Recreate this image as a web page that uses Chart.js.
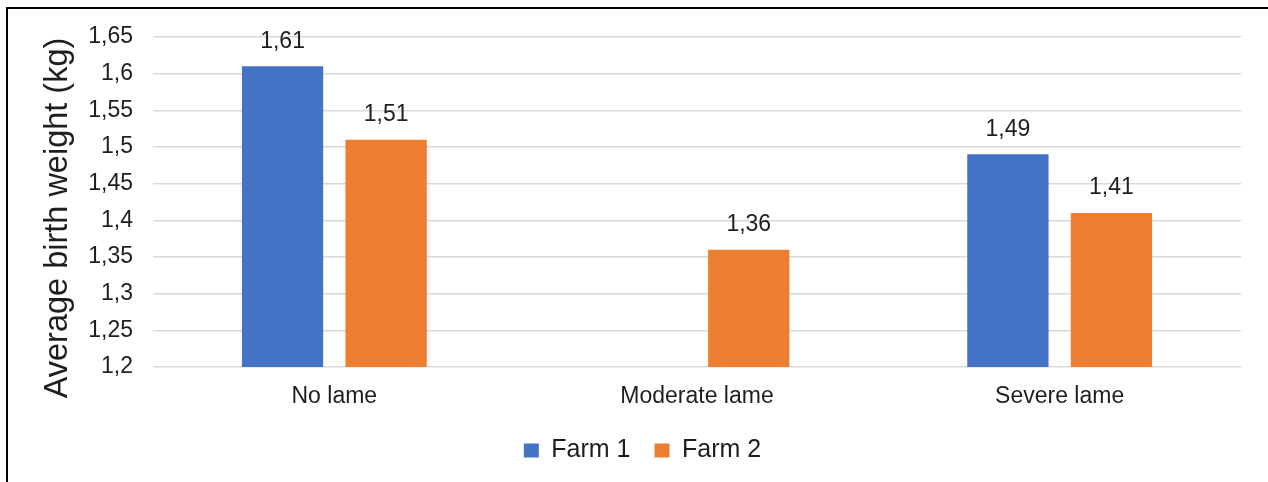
<!DOCTYPE html>
<html>
<head>
<meta charset="utf-8">
<script src="https://cdn.jsdelivr.net/npm/chart.js@4/dist/chart.umd.min.js"></script>
<style>
  html, body { margin: 0; padding: 0; background: #ffffff; overflow: hidden; }
  #wrap { position: relative; width: 1268px; height: 482px; }
  #frame {
    position: absolute; left: 6px; top: 7px; width: 1400px; height: 600px;
    border-top: 2px solid #000; border-left: 2px solid #000; pointer-events: none;
  }
  canvas { position: absolute; left: 0; top: 0; }
</style>
</head>
<body>
<div id="wrap">
  <canvas id="chart" width="1268" height="482"></canvas>
  <div id="frame"></div>
</div>
<script>
// Average birth weight of lambs by lameness level of the ewe
const categories = ['No lame', 'Moderate lame', 'Severe lame'];
const farm1 = [1.61, null, 1.49];
const farm2 = [1.51, 1.36, 1.41];
const seriesNames = ['Farm 1', 'Farm 2'];
const yTicks = { min: 1.2, max: 1.65, step: 0.05 };
const yTitle = 'Average birth weight (kg)';

const FONT = "'Liberation Sans', Arial, sans-serif";
const TEXT = '#1e1e1e';

const commaNum = v => (Math.round(v * 100) / 100).toString().replace('.', ',');

// Value labels above each bar
const valueLabels = {
  id: 'valueLabels',
  afterDatasetsDraw(chart) {
    const ctx = chart.ctx;
    ctx.save();
    ctx.font = '23px ' + FONT;
    ctx.fillStyle = TEXT;
    ctx.textAlign = 'center';
    ctx.textBaseline = 'middle';
    chart.data.datasets.forEach((ds, di) => {
      const meta = chart.getDatasetMeta(di);
      meta.data.forEach((bar, i) => {
        const v = ds.data[i];
        if (v === null || v === undefined) return;
        ctx.fillText(commaNum(v), bar.x, bar.y - 25);
      });
    });
    ctx.restore();
  }
};

// Rotated y-axis title, set a little below the plot's vertical centre
const axisTitle = {
  id: 'axisTitle',
  afterDraw(chart) {
    const ctx = chart.ctx;
    const a = chart.chartArea;
    ctx.save();
    ctx.font = '32.5px ' + FONT;
    ctx.fillStyle = TEXT;
    ctx.textAlign = 'center';
    ctx.textBaseline = 'middle';
    ctx.translate(58, (a.top + a.bottom) / 2 + 16);
    ctx.rotate(-Math.PI / 2);
    ctx.fillText(yTitle, 0, 0);
    ctx.restore();
  }
};

new Chart(document.getElementById('chart'), {
  type: 'bar',
  data: {
    labels: categories,
    datasets: [
      { label: seriesNames[0], data: farm1, backgroundColor: '#4472C4' },
      { label: seriesNames[1], data: farm2, backgroundColor: '#ED7D31' }
    ]
  },
  options: {
    responsive: false,
    animation: false,
    devicePixelRatio: 1,
    layout: { padding: { left: 44, right: 27, top: 37, bottom: 9 } },
    datasets: { bar: { categoryPercentage: 0.571, barPercentage: 0.785 } },
    plugins: {
      legend: {
        position: 'bottom',
        labels: {
          font: { family: FONT, size: 25 },
          color: TEXT,
          boxWidth: 15,
          boxHeight: 14,
          padding: 24
        }
      },
      tooltip: { enabled: false }
    },
    scales: {
      x: {
        afterFit(scale) { scale.height = 47; },
        grid: { display: false, drawTicks: false },
        border: { display: false },
        ticks: { font: { family: FONT, size: 23 }, color: TEXT, padding: 16 }
      },
      y: {
        min: yTicks.min,
        max: yTicks.max,
        afterFit(scale) { scale.width = 109; },
        grid: { color: '#d9d9d9', lineWidth: 1.5, drawTicks: false },
        border: { display: false },
        ticks: {
          stepSize: yTicks.step,
          font: { family: FONT, size: 23 },
          color: TEXT,
          padding: 20,
          callback: v => commaNum(v)
        }
      }
    }
  },
  plugins: [valueLabels, axisTitle]
});
</script>
</body>
</html>
